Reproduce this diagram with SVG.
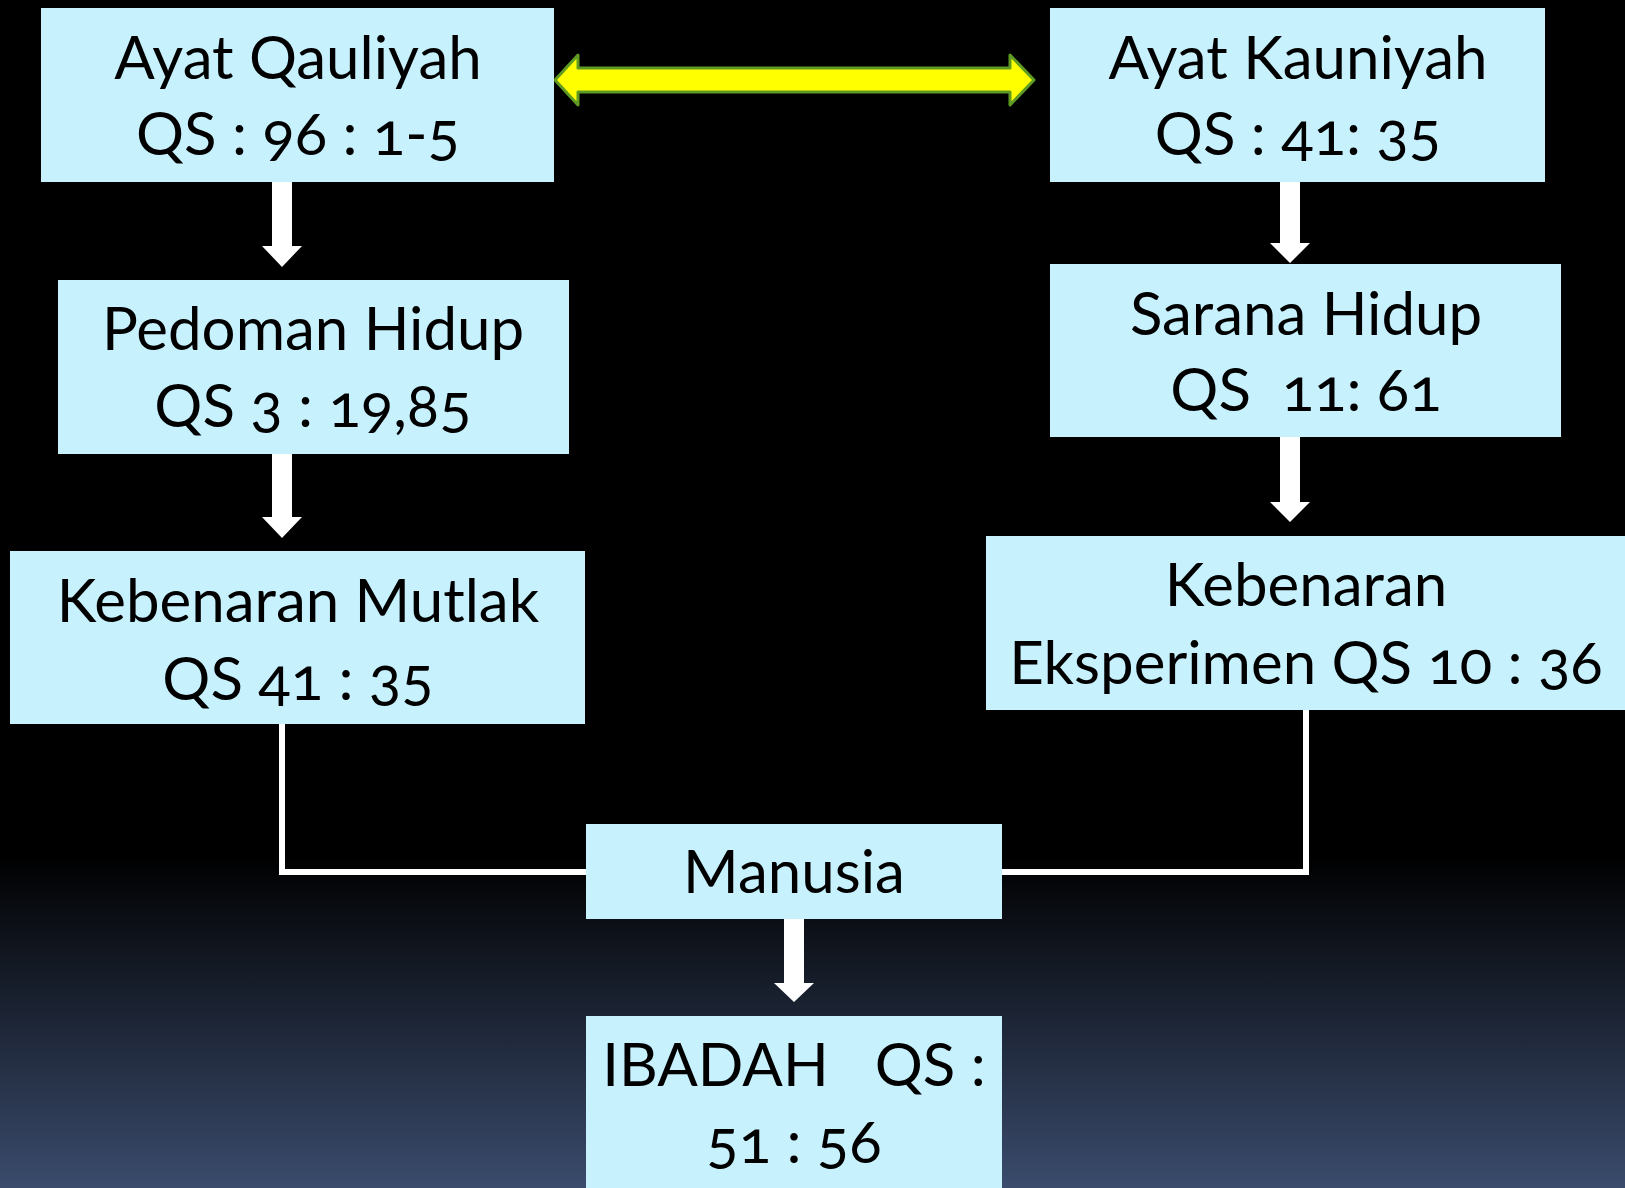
<svg xmlns="http://www.w3.org/2000/svg" width="1625" height="1188" viewBox="0 0 1625 1188">
<defs>
<linearGradient id="bg" x1="0" y1="0" x2="0" y2="1188" gradientUnits="userSpaceOnUse">
<stop offset="0" stop-color="#000000"/>
<stop offset="0.72" stop-color="#000000"/>
<stop offset="1" stop-color="#3a4b6c"/>
</linearGradient>
<style>
.box{fill:#c6f1fd;}
.t{font-family:Lato,"Open Sans","Liberation Sans",sans-serif;font-size:60px;fill:#000;text-anchor:middle;font-variant-numeric:oldstyle-nums;}
.line{fill:none;stroke:#ffffff;stroke-width:6;}
.down{fill:#ffffff;}
</style>
</defs>
<rect x="0" y="0" width="1625" height="1188" fill="url(#bg)"/>

<g id="connectors">
<polyline class="line" points="282,722 282,872 588,872"/>
<polyline class="line" points="1306,710 1306,872 1000,872"/>
<path class="down" d="M272,182 H292 V246 H302 L282,267 L262,246 H272 Z"/>
<path class="down" d="M272,454 H292 V517 H302 L282,538 L262,517 H272 Z"/>
<path class="down" d="M1280,182 H1300 V243 H1310 L1290,263 L1270,243 H1280 Z"/>
<path class="down" d="M1280,437 H1300 V502 H1310 L1290,522 L1270,502 H1280 Z"/>
<path class="down" d="M784,918 H804 V983 H814 L794,1002 L774,983 H784 Z"/>
<path d="M555,80 L578,55 V68 H1010 V55 L1034,80 L1010,105 V92 H578 V105 Z" fill="#ffff00" stroke="#5f9a22" stroke-width="3" stroke-linejoin="round"/>
</g>

<g id="ayat-qauliyah">
<rect class="box" x="41" y="8" width="513" height="174"/>
<text class="t" x="298" y="79">Ayat Qauliyah</text>
<text class="t" x="298" y="155">QS : 96 : 1-5</text>
</g>
<g id="ayat-kauniyah">
<rect class="box" x="1050" y="8" width="495" height="174"/>
<text class="t" x="1298" y="79">Ayat Kauniyah</text>
<text class="t" x="1298" y="155">QS : 41: 35</text>
</g>
<g id="pedoman-hidup">
<rect class="box" x="58" y="280" width="511" height="174"/>
<text class="t" x="313" y="350">Pedoman Hidup</text>
<text class="t" x="313" y="427">QS 3 : 19,85</text>
</g>
<g id="sarana-hidup">
<rect class="box" x="1050" y="264" width="511" height="173"/>
<text class="t" x="1306" y="335">Sarana Hidup</text>
<text class="t" x="1306" y="411" xml:space="preserve">QS  11: 61</text>
</g>
<g id="kebenaran-mutlak">
<rect class="box" x="10" y="551" width="575" height="173"/>
<text class="t" x="298" y="622">Kebenaran Mutlak</text>
<text class="t" x="298" y="700">QS 41 : 35</text>
</g>
<g id="kebenaran-eksperimen">
<rect class="box" x="986" y="536" width="639" height="174"/>
<text class="t" x="1306" y="606">Kebenaran</text>
<text class="t" x="1306" y="684">Eksperimen QS 10 : 36</text>
</g>
<g id="manusia">
<rect class="box" x="586" y="824" width="416" height="95"/>
<text class="t" x="794" y="893">Manusia</text>
</g>
<g id="ibadah">
<rect class="box" x="586" y="1016" width="416" height="172"/>
<text class="t" x="794" y="1086" xml:space="preserve">IBADAH   QS :</text>
<text class="t" x="794" y="1163">51 : 56</text>
</g>
</svg>
